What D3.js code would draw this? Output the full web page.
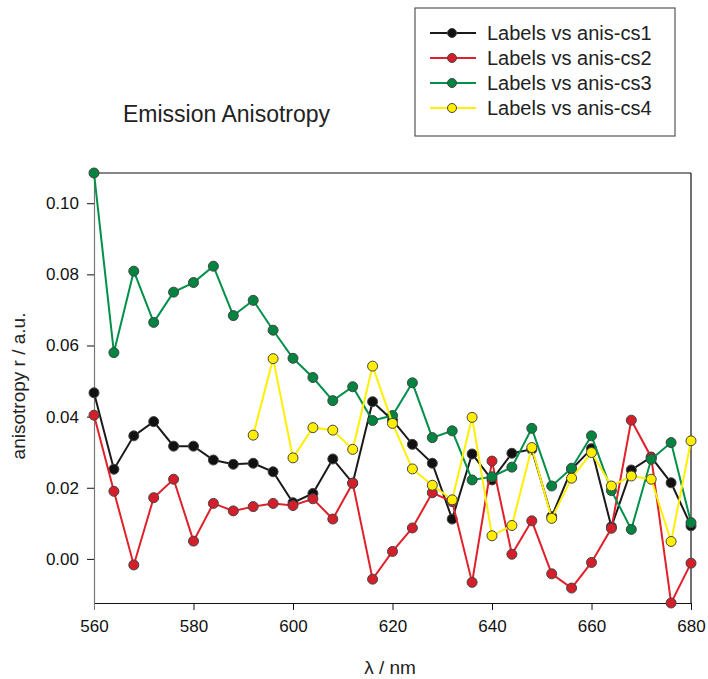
<!DOCTYPE html>
<html>
<head>
<meta charset="utf-8">
<script src="https://cdn.jsdelivr.net/npm/d3@7"></script>
<style>
  body { margin: 0; background: #fff; }
  svg { display: block; font-family: "Liberation Sans", Arial, sans-serif; }
</style>
</head>
<body>
<div id="chart-container"></div>
<script>

// wavelength in nm
const wavelengths = [560, 564, 568, 572, 576, 580, 584, 588, 592, 596, 600, 604, 608, 612, 616, 620,
    624, 628, 632, 636, 640, 644, 648, 652, 656, 660, 664, 668, 672, 676, 680]

const cs1 = [0.0467, 0.0252, 0.0346, 0.0386, 0.0317, 0.0317, 0.0278, 0.0266, 0.0269, 0.0245, 0.0158,
    0.0184, 0.0281, 0.0213, 0.0442, 0.0390, 0.0322, 0.0269, 0.0112, 0.0295, 0.0222, 0.0297, 0.0308,
    0.0119, 0.0252, 0.0310, 0.0090, 0.0250, 0.0286, 0.0214, 0.0093]

const cs2 = [0.0404, 0.0190, -0.0017, 0.0172, 0.0224, 0.0050, 0.0156, 0.0135, 0.0147, 0.0156, 0.0150,
    0.0169, 0.0112, 0.0213, -0.0057, 0.0021, 0.0087, 0.0186, 0.0161, -0.0066, 0.0275, 0.0013, 0.0107,
    -0.0042, -0.0082, -0.0010, 0.0086, 0.0390, 0.0286, -0.0124, -0.0012]

const cs3 = [0.1085, 0.0580, 0.0809, 0.0665, 0.0750, 0.0777, 0.0823, 0.0684, 0.0727, 0.0643, 0.0564,
    0.0510, 0.0445, 0.0484, 0.0389, 0.0403, 0.0495, 0.0341, 0.0360, 0.0222, 0.0231, 0.0258, 0.0367,
    0.0205, 0.0255, 0.0346, 0.0192, 0.0083, 0.0280, 0.0327, 0.0102]

// cs4 has no values before 592 nm
const cs4 = [null, null, null, null, null, null, null, null, 0.0348, 0.0563, 0.0284,
    0.0369, 0.0362, 0.0308, 0.0542, 0.0381, 0.0253, 0.0207, 0.0166, 0.0398, 0.0065, 0.0094, 0.0313,
    0.0114, 0.0227, 0.0299, 0.0205, 0.0233, 0.0224, 0.0049, 0.0332]

const seriesNames = ['Labels vs anis-cs1', 'Labels vs anis-cs2', 'Labels vs anis-cs3', 'Labels vs anis-cs4']
const xTicks = [560, 580, 600, 620, 640, 660, 680]
const yTicks = [0.00, 0.02, 0.04, 0.06, 0.08, 0.10]

const lineColors = ['#1a1a1a', '#e0202a', '#00904a', '#fff000']
const dotColors = ['#111111', '#d41f2b', '#00843f', '#ffee00']

const width = 708
const height = 679
const plotLeft = 94, plotRight = 691, plotTop = 173, plotBottom = 603

let xScale = d3.scaleLinear()
    .domain([560, 680])
    .range([plotLeft, plotRight])

let yScale = d3.scaleLinear()
    .domain([-0.0124, 0.1085])
    .range([plotBottom, plotTop])

const svg = d3.select('#chart-container')
    .append('svg')
    .attr('width', width)
    .attr('height', height)

// frame: top and right edges
svg.append('line')
    .attr('x1', plotLeft).attr('x2', plotRight).attr('y1', plotTop).attr('y2', plotTop)
    .attr('stroke', '#111').attr('stroke-width', 1.2)
svg.append('line')
    .attr('x1', plotRight).attr('x2', plotRight).attr('y1', plotTop).attr('y2', plotBottom)
    .attr('stroke', '#111').attr('stroke-width', 1.2)

let xAxis = d3.axisBottom(xScale)
    .tickValues(xTicks)
    .tickFormat(d3.format('d'))
    .tickSizeInner(7)
    .tickSizeOuter(0)
    .tickPadding(10)

let yAxis = d3.axisLeft(yScale)
    .tickValues(yTicks)
    .tickFormat(d3.format('.2f'))
    .tickSizeInner(7)
    .tickSizeOuter(0)
    .tickPadding(8)

const gx = svg.append('g')
    .attr('transform', 'translate(0, ' + plotBottom + ')')
    .call(xAxis)
gx.select('.domain').attr('stroke', '#111').attr('stroke-width', 1.2)
gx.selectAll('.tick line').attr('stroke', '#111')
gx.selectAll('.tick').filter(d => d === 560).select('line').attr('stroke', '#777')
gx.selectAll('text').attr('font-size', 17).attr('fill', '#111')
    .attr('font-family', '"Liberation Sans", Arial, sans-serif')

const gy = svg.append('g')
    .attr('transform', 'translate(' + plotLeft + ', 0)')
    .call(yAxis)
gy.select('.domain').attr('stroke', '#777').attr('stroke-width', 1.2)
gy.selectAll('.tick line').attr('stroke', '#111')
gy.selectAll('text').attr('font-size', 17).attr('fill', '#111')
    .attr('font-family', '"Liberation Sans", Arial, sans-serif')

// series
const allSeries = [cs1, cs2, cs3, cs4]

const line = d3.line()
    .defined(d => d[1] !== null)
    .x(d => xScale(d[0]))
    .y(d => yScale(d[1]))

allSeries.forEach((values, i) => {
    let pts = wavelengths.map((w, j) => [w, values[j]])
    svg.append('path')
        .datum(pts)
        .attr('fill', 'none')
        .attr('stroke', lineColors[i])
        .attr('stroke-width', 2)
        .attr('d', line)

    svg.append('g')
        .selectAll('circle')
        .data(pts.filter(d => d[1] !== null))
        .enter()
        .append('circle')
        .attr('cx', d => xScale(d[0]))
        .attr('cy', d => yScale(d[1]))
        .attr('r', 5)
        .attr('fill', dotColors[i])
        .attr('stroke', '#444')
        .attr('stroke-width', 1)
})

// titles
svg.append('text')
    .attr('x', 123).attr('y', 122)
    .attr('font-size', 23)
    .attr('fill', '#222')
    .text('Emission Anisotropy')

svg.append('text')
    .attr('x', 390).attr('y', 674)
    .attr('text-anchor', 'middle')
    .attr('font-size', 19)
    .attr('fill', '#222')
    .text('λ / nm')

svg.append('text')
    .attr('transform', 'translate(25, 386) rotate(-90)')
    .attr('text-anchor', 'middle')
    .attr('font-size', 19)
    .attr('fill', '#222')
    .text('anisotropy r / a.u.')

// legend
const legend = svg.append('g')
legend.append('rect')
    .attr('x', 415).attr('y', 8)
    .attr('width', 260).attr('height', 128)
    .attr('fill', 'white')
    .attr('stroke', '#555')
    .attr('stroke-width', 1.2)

const rowY = [33, 58, 83, 108]
seriesNames.forEach((name, i) => {
    legend.append('line')
        .attr('x1', 430).attr('x2', 476)
        .attr('y1', rowY[i]).attr('y2', rowY[i])
        .attr('stroke', lineColors[i])
        .attr('stroke-width', 2)
    legend.append('circle')
        .attr('cx', 452).attr('cy', rowY[i])
        .attr('r', 4.5)
        .attr('fill', dotColors[i])
        .attr('stroke', '#444')
        .attr('stroke-width', 1)
    legend.append('text')
        .attr('x', 487).attr('y', rowY[i] + 7)
        .attr('font-size', 20)
        .attr('fill', '#222')
        .text(name)
})

</script>
</body>
</html>
